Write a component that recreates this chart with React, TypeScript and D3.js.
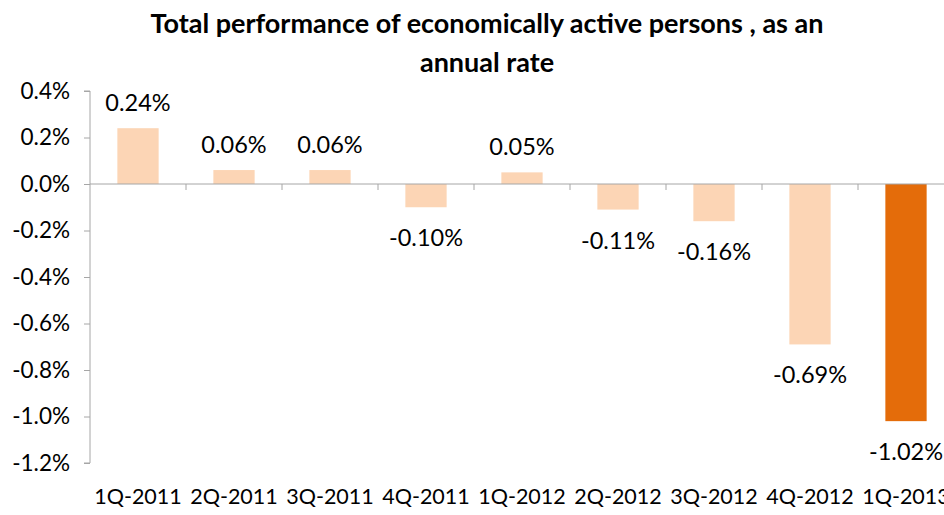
import React, { useEffect, useRef } from 'react';
import * as d3 from 'd3';

const categories = ['1Q-2011', '2Q-2011', '3Q-2011', '4Q-2011', '1Q-2012', '2Q-2012', '3Q-2012', '4Q-2012', '1Q-2013'];
const values = [0.24, 0.06, 0.06, -0.10, 0.05, -0.11, -0.16, -0.69, -1.02];
const yTicks = [0.4, 0.2, 0.0, -0.2, -0.4, -0.6, -0.8, -1.0, -1.2];
const titleLines = ['Total performance of economically active persons , as an', 'annual rate'];

const width = 944;
const height = 515;

const App = () => {
    const svgRef = useRef<SVGSVGElement>(null);

    useEffect(() => {
        const svg = d3.select(svgRef.current);
        svg.selectAll('*').remove();

        const font = 'Lato, "Open Sans", sans-serif';
        const left = 90;
        const top = 91;
        const bottom = 463;

        const x = d3.scaleBand()
            .domain(categories)
            .range([left, left + 96 * categories.length])
            .paddingInner(0.57)
            .paddingOuter(0.285);

        const y = d3.scaleLinear()
            .domain([0.4, -1.2])
            .range([top, bottom]);

        // title
        svg.append('g')
            .selectAll('text')
            .data(titleLines)
            .enter()
            .append('text')
            .attr('x', 487)
            .attr('y', (d, i) => 33 + i * 39)
            .attr('text-anchor', 'middle')
            .style('font-family', font)
            .style('font-size', '27px')
            .style('font-weight', 'bold')
            .attr('fill', '#000')
            .text(d => d);

        // y axis
        const yAxis = svg.append('g')
            .attr('transform', `translate(${left},0)`)
            .call(d3.axisLeft(y).tickValues(yTicks).tickSize(6).tickPadding(14)
                .tickFormat(d => `${(+d).toFixed(1)}%`));
        yAxis.select('.domain').attr('stroke', '#a6a6a6').attr('d', `M-6,${top}H0V${bottom}H-6`);
        yAxis.selectAll('.tick line').attr('stroke', '#a6a6a6');
        yAxis.selectAll('.tick text')
            .style('font-family', font)
            .style('font-size', '22.5px')
            .attr('fill', '#000');

        // bars
        svg.append('g')
            .selectAll('rect')
            .data(values)
            .enter()
            .append('rect')
            .attr('x', (d, i) => x(categories[i])!)
            .attr('width', x.bandwidth())
            .attr('y', d => y(Math.max(0, d)))
            .attr('height', d => Math.abs(y(d) - y(0)))
            .attr('fill', (d, i) => i === values.length - 1 ? '#e46c0a' : '#fcd5b5');

        // zero axis with category ticks
        const step = x.step();
        const zero = y(0);
        svg.append('line')
            .attr('x1', left).attr('x2', width)
            .attr('y1', zero).attr('y2', zero)
            .attr('stroke', '#a6a6a6');
        svg.append('g')
            .selectAll('line')
            .data(categories.slice(1))
            .enter()
            .append('line')
            .attr('x1', (d) => x(d)! - (step - x.bandwidth()) / 2)
            .attr('x2', (d) => x(d)! - (step - x.bandwidth()) / 2)
            .attr('y1', zero).attr('y2', zero + 6)
            .attr('stroke', '#a6a6a6');

        // value labels
        svg.append('g')
            .selectAll('text')
            .data(values)
            .enter()
            .append('text')
            .attr('x', (d, i) => x(categories[i])! + x.bandwidth() / 2)
            .attr('y', d => d >= 0 ? y(d) - 17 : y(d) + 39)
            .attr('text-anchor', 'middle')
            .style('font-family', font)
            .style('font-size', '23.5px')
            .attr('fill', '#000')
            .text(d => `${d.toFixed(2)}%`);

        // category labels
        svg.append('g')
            .selectAll('text')
            .data(categories)
            .enter()
            .append('text')
            .attr('x', d => x(d)! + x.bandwidth() / 2)
            .attr('y', 504)
            .attr('text-anchor', 'middle')
            .style('font-family', font)
            .style('font-size', '21.5px')
            .attr('fill', '#000')
            .text(d => d);
    }, []);

    return (
        <svg ref={svgRef} width={width} height={height}
            style={{ position: 'absolute', left: 0, top: 0, background: '#fff' }} />
    );
};

export default App;
